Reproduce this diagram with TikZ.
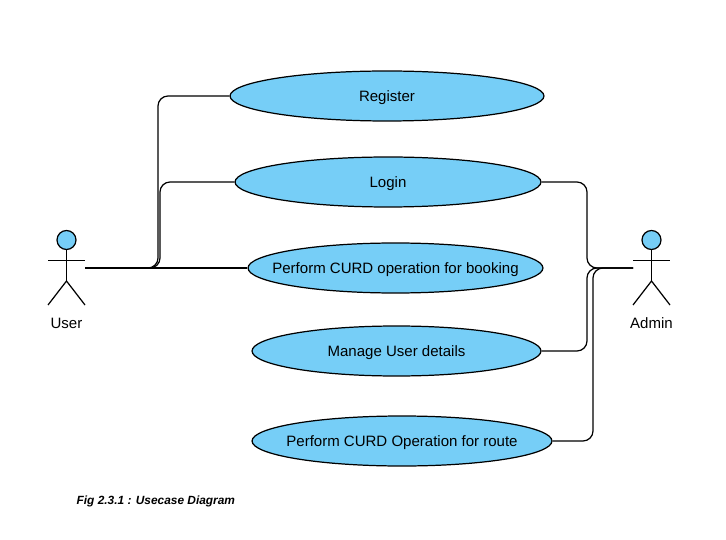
\documentclass[tikz,border=0pt]{standalone}
\usepackage{fontspec}
\setmainfont{Liberation Sans}
\usetikzlibrary{shapes.geometric,positioning}
\definecolor{usecaseblue}{HTML}{76CEF7}

\begin{document}
\begin{tikzpicture}[x=0.02cm, y=-0.02cm, line width=0.7pt,
    every node/.style={font=\fontsize{8.55}{10}\selectfont},
    usecase/.style={ellipse, draw=black, fill=usecaseblue, inner sep=-1.5cm, minimum height=1cm, text height=6pt, text depth=0pt},
    conn/.style={rounded corners=0.2cm},
    actorhead/.style={circle, draw=black, fill=usecaseblue, inner sep=0pt, minimum size=0.38cm}]
    \useasboundingbox (0,0) rectangle (726,540);

    % Use cases
    \node[usecase, minimum width=6.28cm] (register) at (387,96) {Register};
    \node[usecase, minimum width=6.12cm] (login) at (388,182) {Login};
    \node[usecase, minimum width=5.90cm] (booking) at (395.5,268) {Perform CURD operation for booking};
    \node[usecase, minimum width=5.78cm] (manage) at (396.5,351) {Manage User details};
    \node[usecase, minimum width=6.00cm] (route) at (402,441) {Perform CURD Operation for route};

    % Actors
    \foreach \name/\cx/\who in {user/66.5/User, admin/651.5/Admin} {
        \node[actorhead] (\name head) at (\cx,240) {};
        \coordinate (\name crotch) at (\cx,281);
        \draw (\name head) -- (\name crotch);
        \draw (\cx-18.5,260.5) -- (\cx+18.5,260.5);
        \draw (\cx-18.5,305) -- (\name crotch) -- (\cx+18.5,305);
        \node (\name label) at (\cx,323) {\who};
    }

    % Connectors on the user side
    \coordinate (userhand) at (85,268);
    \coordinate (registerbus) at (158,180);
    \coordinate (loginbus) at (160,220);
    \draw[conn] (userhand) -| (registerbus) |- (register);
    \draw[conn] (userhand) -| (loginbus) |- (login);
    \draw[conn] (userhand) -- (booking);

    % Connectors on the admin side
    \coordinate (adminhand) at (633,268);
    \coordinate (adminbus) at (587,220);
    \coordinate (managebus) at (587,310);
    \coordinate (routebus) at (593,350);
    \draw[conn] (adminhand) -| (adminbus) |- (login);
    \draw[conn] (adminhand) -| (managebus) |- (manage);
    \draw[conn] (adminhand) -| (routebus) |- (route);

    % Caption
    \node[anchor=west, inner sep=0pt, font=\fontsize{6.77}{8}\selectfont\bfseries\itshape] (caption) at (76,501) {Fig 2.3.1 : Usecase Diagram};
\end{tikzpicture}
\end{document}
